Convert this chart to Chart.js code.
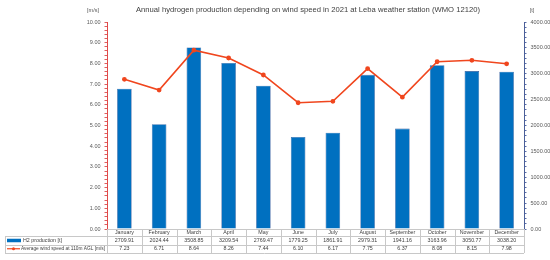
<!DOCTYPE html>
<html>
<head>
<meta charset="utf-8">
<script src="https://cdn.jsdelivr.net/npm/chart.js@4.4.0/dist/chart.umd.min.js"></script>
<style>
    body { margin: 0; background: #fff; }
    #wrap { width: 550px; height: 260px; }
</style>
</head>
<body>
<div id="wrap"><canvas id="myChart" width="550" height="260"></canvas></div>
<script>
const months = ['January', 'February', 'March', 'April', 'May', 'June', 'July', 'August', 'September', 'October', 'November', 'December'];
const h2Production = [2709.91, 2024.44, 3508.85, 3209.54, 2769.47, 1779.25, 1861.91, 2979.31, 1941.16, 3163.96, 3050.77, 3038.20];
const windSpeed = [7.23, 6.71, 8.64, 8.26, 7.44, 6.10, 6.17, 7.75, 6.37, 8.08, 8.15, 7.98];
const h2Label = 'H2 production [t]';
const windLabel = 'Average wind speed at 110m AGL [m/s]';
const titleText = 'Annual hydrogen production depending on wind speed in 2021 at Leba weather station (WMO 12120)';

const barColor = '#0070C0';
const lineColor = '#F0461E';
const font = 'Liberation Sans';

// title, units and the data table under the plot
const tablePlugin = {
    id: 'tablePlugin',
    afterDraw(chart) {
        const ctx = chart.ctx;
        const area = chart.chartArea;
        const x = chart.scales.x;
        const half = (x.getPixelForValue(1) - x.getPixelForValue(0)) / 2;
        const rows = [area.bottom, area.bottom + 7, area.bottom + 15.5, area.bottom + 24];
        const legLeft = 5;

        ctx.save();
        ctx.fillStyle = '#404040';
        ctx.font = '7.7px "' + font + '"';
        ctx.textAlign = 'center';
        ctx.textBaseline = 'middle';
        ctx.fillText(titleText, 308, 10, 344);

        ctx.font = '5.5px "' + font + '"';
        ctx.fillStyle = '#595959';
        ctx.fillText('[m/s]', 93, 10);
        ctx.fillText('[t]', 532, 10);

        // grid lines
        ctx.strokeStyle = '#C8C8C8';
        ctx.lineWidth = 1;
        ctx.beginPath();
        ctx.moveTo(area.left, rows[0] + 0.5); ctx.lineTo(area.right, rows[0] + 0.5);
        for (let r = 1; r < 4; r++) {
            ctx.moveTo(legLeft, Math.round(rows[r]) + 0.5);
            ctx.lineTo(area.right, Math.round(rows[r]) + 0.5);
        }
        ctx.moveTo(legLeft + 0.5, rows[1]); ctx.lineTo(legLeft + 0.5, rows[3]);
        for (let i = 0; i <= months.length; i++) {
            const px = Math.round(x.getPixelForValue(i) - half) + 0.5;
            ctx.moveTo(px, rows[0]); ctx.lineTo(px, rows[3]);
        }
        ctx.stroke();

        // cells
        ctx.fillStyle = '#404040';
        ctx.font = '5.3px "' + font + '"';
        months.forEach((m, i) => {
            const px = x.getPixelForValue(i);
            ctx.fillText(m, px, (rows[0] + rows[1]) / 2);
            ctx.fillText(h2Production[i].toFixed(2), px, (rows[1] + rows[2]) / 2);
            ctx.fillText(windSpeed[i].toFixed(2), px, (rows[2] + rows[3]) / 2);
        });

        // legend keys
        ctx.textAlign = 'left';
        const y1 = (rows[1] + rows[2]) / 2;
        const y2 = (rows[2] + rows[3]) / 2;
        ctx.fillStyle = barColor;
        ctx.fillRect(legLeft + 2, y1 - 1.5, 14, 3.5);
        ctx.fillStyle = '#404040';
        ctx.fillText(h2Label, legLeft + 18, y1, 80);
        ctx.strokeStyle = lineColor;
        ctx.lineWidth = 1.2;
        ctx.beginPath();
        ctx.moveTo(legLeft + 2, y2); ctx.lineTo(legLeft + 15, y2);
        ctx.stroke();
        ctx.fillStyle = lineColor;
        ctx.beginPath();
        ctx.arc(legLeft + 8.5, y2, 1.5, 0, Math.PI * 2);
        ctx.fill();
        ctx.fillStyle = '#404040';
        ctx.fillText(windLabel, legLeft + 16, y2, 84);
        ctx.restore();
    }
};

new Chart(document.getElementById('myChart'), {
    data: {
        labels: months,
        datasets: [{
            type: 'line',
            label: windLabel,
            data: windSpeed,
            yAxisID: 'y',
            borderColor: lineColor,
            backgroundColor: lineColor,
            borderWidth: 1.6,
            pointRadius: 1.6,
            pointHoverRadius: 1.6,
            tension: 0
        }, {
            type: 'bar',
            label: h2Label,
            data: h2Production,
            yAxisID: 'y1',
            backgroundColor: barColor,
            borderColor: '#2F5597',
            borderWidth: 0.6,
            barPercentage: 0.42,
            categoryPercentage: 1
        }]
    },
    options: {
        responsive: false,
        animation: false,
        layout: {
            padding: { top: 22, bottom: 31, left: 0, right: 0 }
        },
        scales: {
            x: {
                display: false
            },
            y: {
                position: 'left',
                min: 0,
                max: 10,
                afterFit: (scale) => { scale.width = 107; },
                ticks: {
                    stepSize: 0.2,
                    autoSkip: false,
                    padding: 4,
                    color: '#595959',
                    font: { family: font, size: 5.5 },
                    callback: (v) => Math.abs(v - Math.round(v)) < 0.001 ? v.toFixed(2) : ''
                },
                grid: { drawOnChartArea: false, drawTicks: true, tickLength: 2.5, color: '#E06060' },
                border: { display: true, color: '#E04848', width: 1 }
            },
            y1: {
                position: 'right',
                min: 0,
                max: 4000,
                afterFit: (scale) => { scale.width = 26; },
                ticks: {
                    stepSize: 100,
                    autoSkip: false,
                    padding: 4,
                    color: '#595959',
                    font: { family: font, size: 5.5 },
                    callback: (v) => v % 500 === 0 ? v.toFixed(2) : ''
                },
                grid: { drawOnChartArea: false, drawTicks: true, tickLength: 2.5, color: '#5A6EA8' },
                border: { display: true, color: '#4A5E98', width: 1 }
            }
        },
        plugins: {
            legend: { display: false },
            tooltip: { enabled: false }
        }
    },
    plugins: [tablePlugin]
});
</script>
</body>
</html>
